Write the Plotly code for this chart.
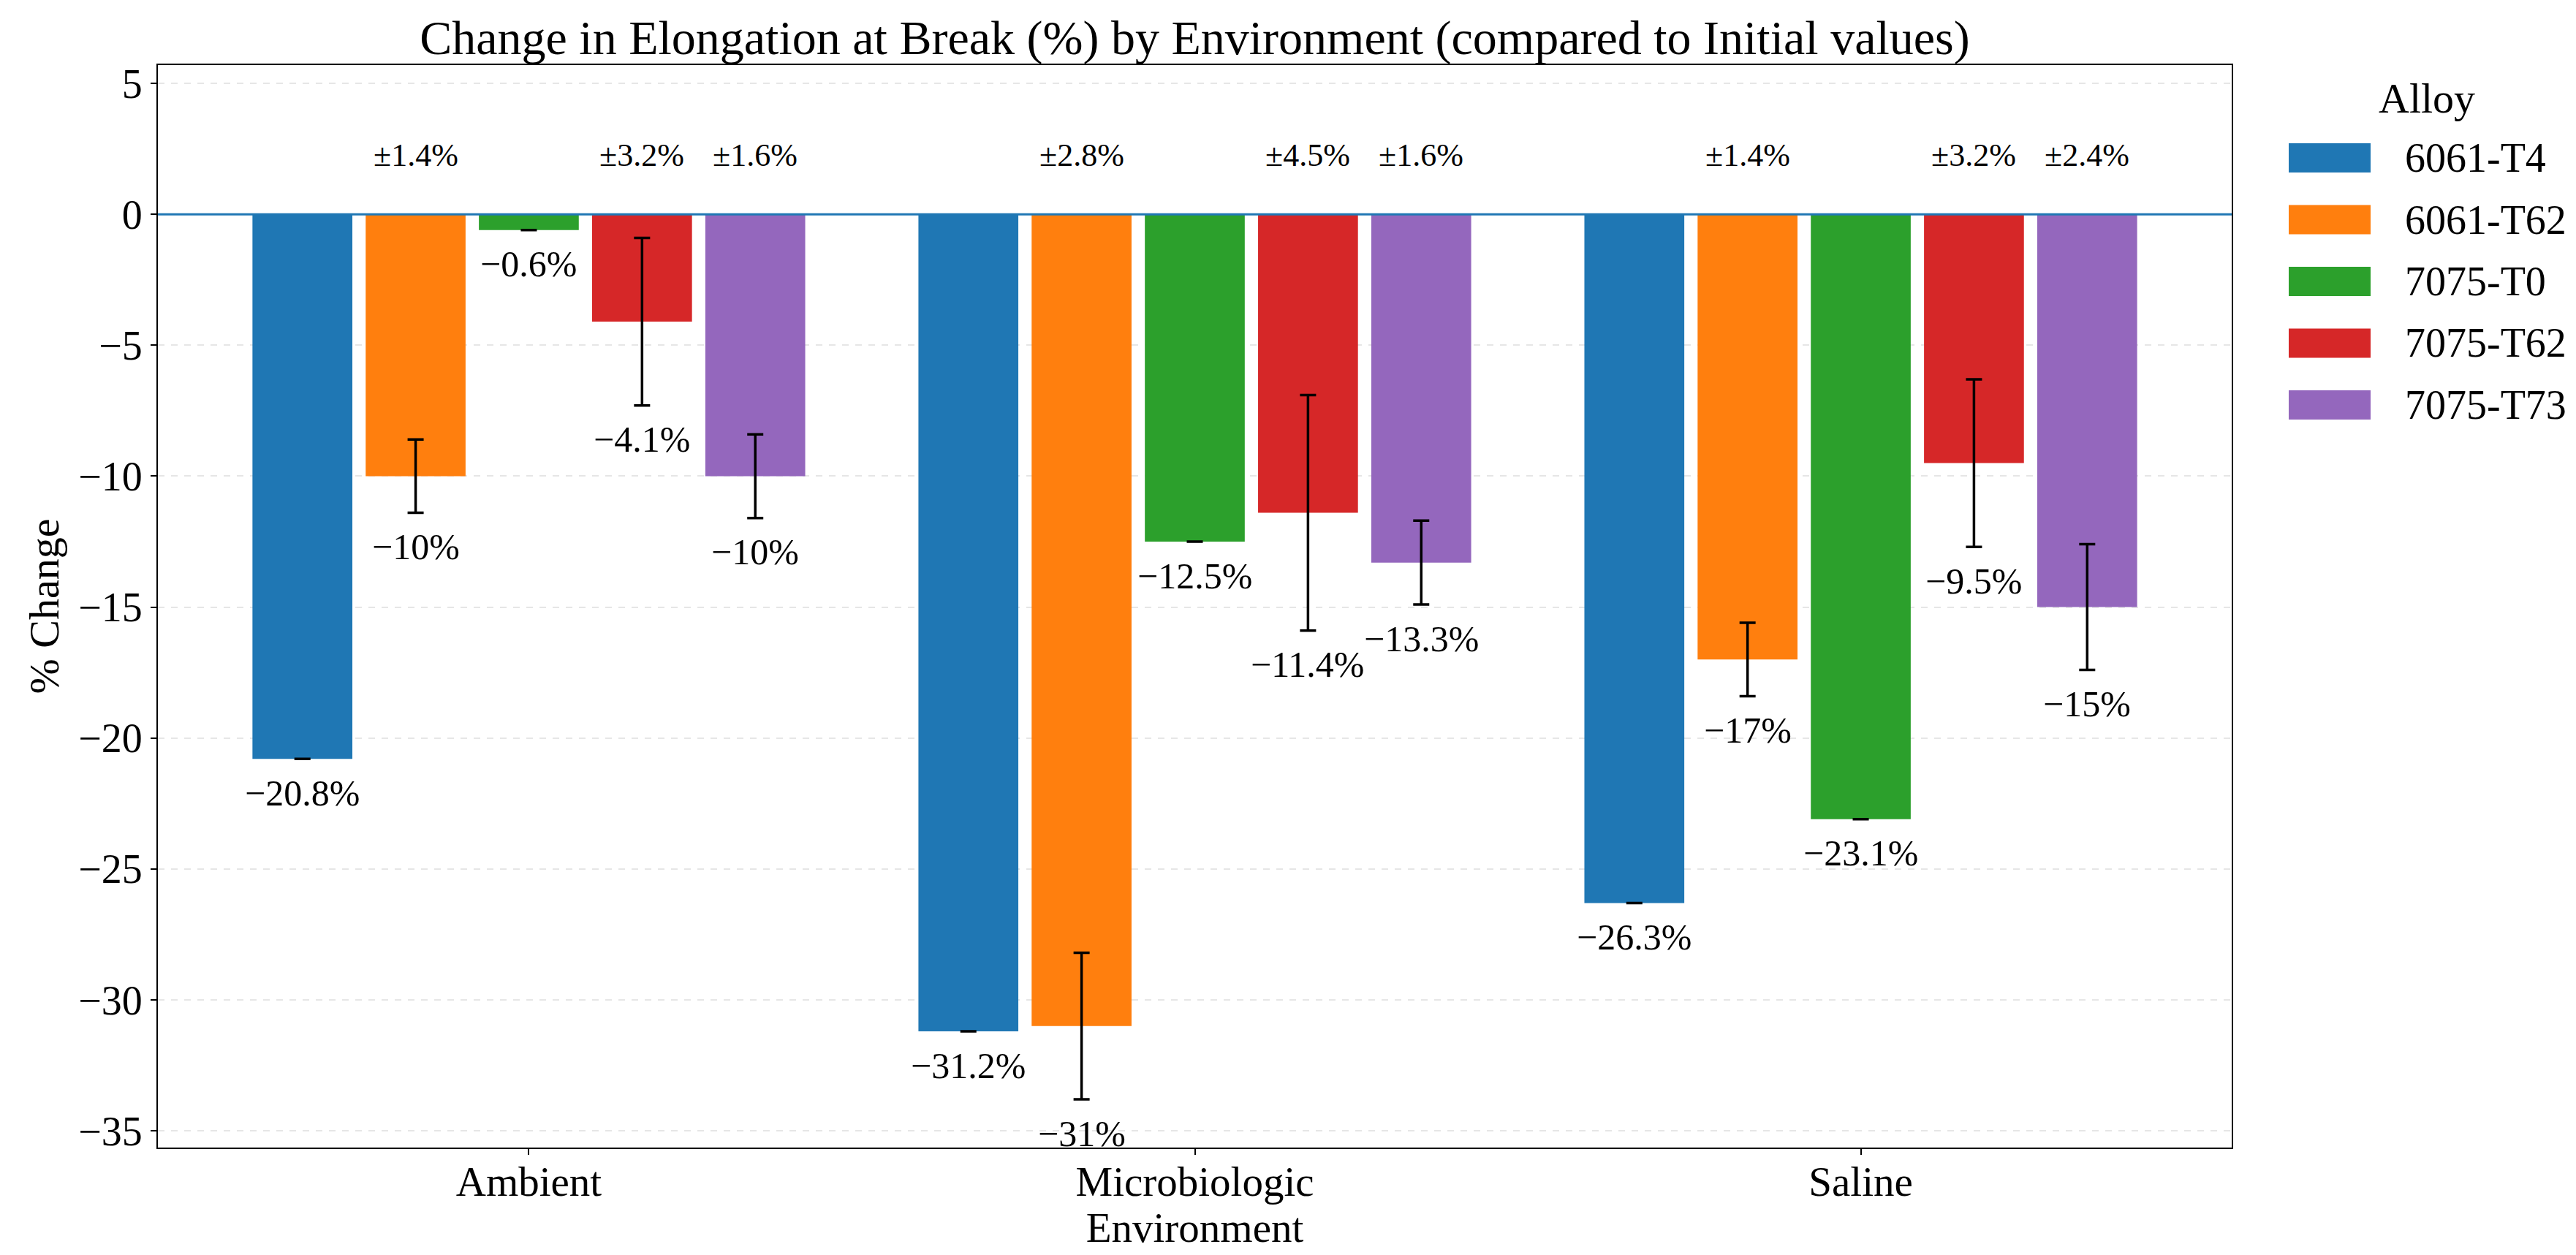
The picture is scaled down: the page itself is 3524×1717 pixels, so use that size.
import plotly.graph_objects as go

environments = ["Ambient", "Microbiologic", "Saline"]
alloys = ["6061-T4", "6061-T62", "7075-T0", "7075-T62", "7075-T73"]
colors = ["#1f77b4", "#ff7f0e", "#2ca02c", "#d62728", "#9467bd"]

change_6061_T4 = [-20.8, -31.2, -26.3]
change_6061_T62 = [-10.0, -31.0, -17.0]
change_7075_T0 = [-0.6, -12.5, -23.1]
change_7075_T62 = [-4.1, -11.4, -9.5]
change_7075_T73 = [-10.0, -13.3, -15.0]

err_6061_T4 = [0.0, 0.0, 0.0]
err_6061_T62 = [1.4, 2.8, 1.4]
err_7075_T0 = [0.0, 0.0, 0.0]
err_7075_T62 = [3.2, 4.5, 3.2]
err_7075_T73 = [1.6, 1.6, 2.4]

changes = [change_6061_T4, change_6061_T62, change_7075_T0, change_7075_T62, change_7075_T73]
errors = [err_6061_T4, err_6061_T62, err_7075_T0, err_7075_T62, err_7075_T73]

y_tick_vals = [5, 0, -5, -10, -15, -20, -25, -30, -35]
y_tick_text = ["5", "0", "\u22125", "\u221210", "\u221215", "\u221220", "\u221225", "\u221230", "\u221235"]

FONT = "Liberation Serif, Times New Roman, serif"
W, H = 3524, 1717
L, R, T, B = 208, 3045, 81, 1562
BAR_W = 0.15
STEP = 0.17


def fmt(v):
    s = ("%.1f" % abs(v)).rstrip("0").rstrip(".")
    return ("\u2212" if v < 0 else "") + s + "%"


fig = go.Figure()
x_idx = list(range(len(environments)))
annotations = []
for i, (name, vals, errs, col) in enumerate(zip(alloys, changes, errors, colors)):
    off = (i - 2) * STEP - BAR_W / 2
    fig.add_trace(go.Bar(
        x=x_idx, y=vals, name=name, width=BAR_W, offset=off,
        marker=dict(color=col, line=dict(width=0)),
        error_y=dict(type="data", array=errs, visible=True, color="black",
                     thickness=3.5, width=11),
        showlegend=False,
    ))
    for j, (v, e) in enumerate(zip(vals, errs)):
        xc = j + (i - 2) * STEP
        annotations.append(dict(x=xc, y=v - e - 1.3, xref="x", yref="y",
                                text=fmt(v), showarrow=False,
                                font=dict(family=FONT, size=50, color="black"),
                                xanchor="center", yanchor="middle"))
        if e > 0:
            annotations.append(dict(x=xc, y=2.25, xref="x", yref="y",
                                    text="\u00b1" + ("%.1f" % e) + "%", showarrow=False,
                                    font=dict(family=FONT, size=44, color="black"),
                                    xanchor="center", yanchor="middle"))

# legend drawn as swatches with labels
pw = R - L
ph = B - T
shapes = []
leg_y = [208, 292.5, 377, 461.5, 546]
for k, (name, col) in enumerate(zip(alloys, colors)):
    yc = (B - leg_y[k]) / ph
    hh = 20 / ph
    shapes.append(dict(type="rect", xref="paper", yref="paper",
                       x0=(3123 - L) / pw, x1=(3235 - L) / pw, y0=yc - hh, y1=yc + hh,
                       fillcolor=col, line=dict(width=0)))
    annotations.append(dict(x=(3280 - L) / pw, y=yc, xref="paper", yref="paper",
                            text=name, showarrow=False, xanchor="left", yanchor="middle",
                            font=dict(family=FONT, size=56, color="black")))
annotations.append(dict(x=(3312 - L) / pw, y=(B - 126) / ph, xref="paper", yref="paper",
                        text="Alloy", showarrow=False, xanchor="center", yanchor="middle",
                        font=dict(family=FONT, size=58, color="black")))

shapes.append(dict(type="line", xref="paper", yref="y", x0=0, x1=1, y0=0, y1=0,
                   line=dict(color="#1f77b4", width=3), layer="above"))

fig.update_layout(
    width=W, height=H,
    margin=dict(l=L, r=W - R, t=T, b=H - B),
    paper_bgcolor="white", plot_bgcolor="white",
    barmode="overlay",
    font=dict(family=FONT, size=56, color="black"),
    title=dict(text="Change in Elongation at Break (%) by Environment (compared to Initial values)",
               x=0.5, xref="paper", xanchor="center", y=1 - 43 / H, yref="container",
               yanchor="middle", font=dict(family=FONT, size=66, color="black")),
    xaxis=dict(range=[-0.557, 2.557], tickvals=x_idx, ticktext=environments,
               showgrid=False, zeroline=False, showline=True, mirror=True,
               linecolor="black", linewidth=2, ticks="outside", ticklen=8,
               tickwidth=2, tickcolor="black", ticklabelstandoff=-12,
               tickfont=dict(family=FONT, size=57, color="black"),
               title=dict(text="Environment", standoff=6,
                          font=dict(family=FONT, size=57, color="black"))),
    yaxis=dict(range=[-35.64, 5.70], tickvals=y_tick_vals, ticktext=y_tick_text,
               showgrid=True, gridcolor="#e6e6e6", gridwidth=2, griddash="dash",
               zeroline=False, showline=True, mirror=True,
               linecolor="black", linewidth=2, ticks="outside", ticklen=8,
               tickwidth=2, tickcolor="black",
               tickfont=dict(family=FONT, size=56, color="black"),
               title=dict(text="% Change", standoff=8,
                          font=dict(family=FONT, size=58, color="black"))),
    annotations=annotations,
    shapes=shapes,
)

fig.write_html("out.html")
